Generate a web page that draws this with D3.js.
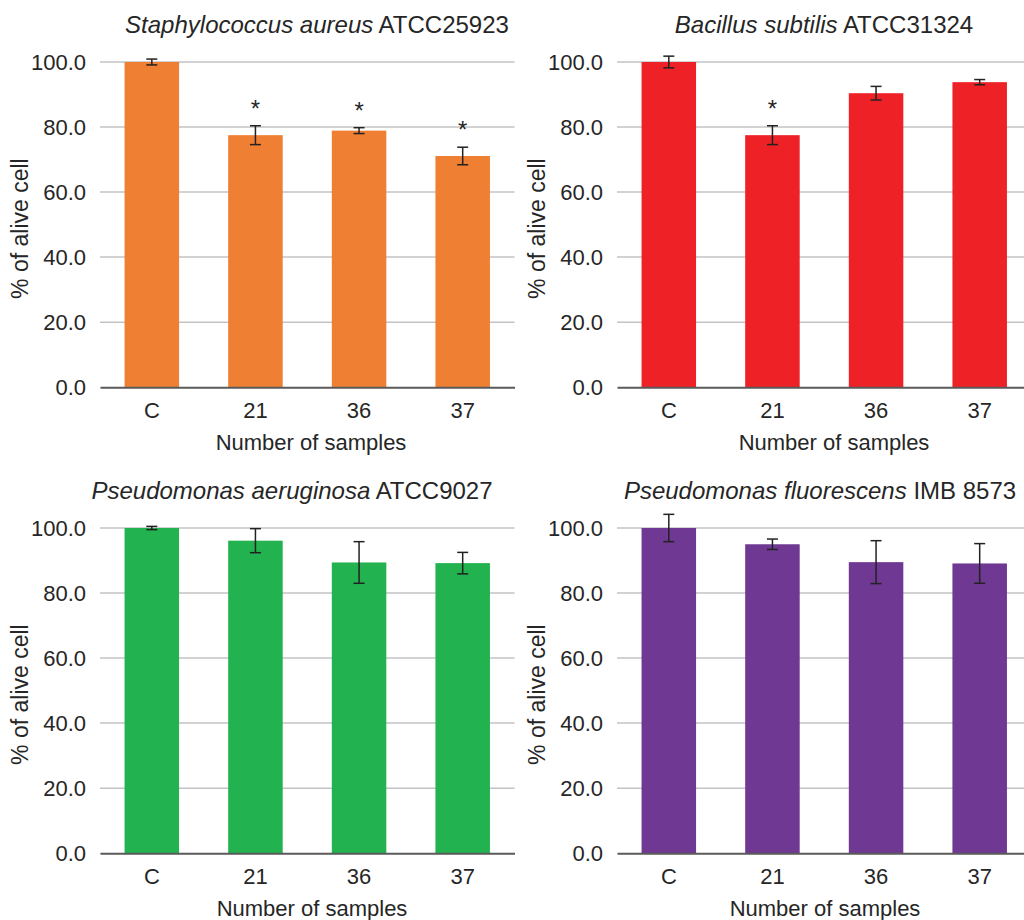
<!DOCTYPE html>
<html>
<head>
<meta charset="utf-8">
<script src="https://cdn.jsdelivr.net/npm/d3@7"></script>
<style>
  body { margin: 0; background: #fff; }
  svg { display: block; font-family: "Liberation Sans", Arial, sans-serif; }
</style>
</head>
<body>
<svg id="chart"></svg>
<script>
// data
var categories = ["C", "21", "36", "37"];
var yTicks = [0, 20, 40, 60, 80, 100];

var speciesNames = ["Staphylococcus aureus", "Bacillus subtilis", "Pseudomonas aeruginosa", "Pseudomonas fluorescens"];
var strainNames = ["ATCC25923", "ATCC31324", "ATCC9027", "IMB 8573"];

var saValues = [100.0, 77.5, 78.9, 71.1];
var saErrors = [0.9, 2.9, 0.9, 2.7];
var saStars = [false, true, true, true];

var bsValues = [100.0, 77.5, 90.4, 93.8];
var bsErrors = [1.8, 2.9, 2.1, 0.8];
var bsStars = [false, true, false, false];

var paValues = [100.0, 96.1, 89.4, 89.2];
var paErrors = [0.5, 3.7, 6.4, 3.3];
var paStars = [false, false, false, false];

var pfValues = [100.0, 95.0, 89.5, 89.1];
var pfErrors = [4.2, 1.6, 6.6, 6.1];
var pfStars = [false, false, false, false];

var colors = ["#ef7f32", "#ee2226", "#22b24f", "#6e3893"];

var screen = {width: 1024, height: 920};

// layout of the four panels
var layout = [
  {left: 100, top: 62, titleX: 317, xLabelX: 311},
  {left: 617, top: 62, titleX: 824, xLabelX: 834},
  {left: 100, top: 528, titleX: 292, xLabelX: 312},
  {left: 617, top: 528, titleX: 820, xLabelX: 825}
];
var plotW = 414.5, plotH = 325.2;

var panels = [
  {values: saValues, errors: saErrors, stars: saStars},
  {values: bsValues, errors: bsErrors, stars: bsStars},
  {values: paValues, errors: paErrors, stars: paStars},
  {values: pfValues, errors: pfErrors, stars: pfStars}
];

var svg = d3.select("#chart")
  .attr("width", screen.width)
  .attr("height", screen.height);

var xScale = d3.scaleBand()
  .domain(categories)
  .range([0, plotW])
  .paddingInner(0.474)
  .paddingOuter(0.237);

var yScale = d3.scaleLinear()
  .domain([0, 100])
  .range([plotH, 0]);

panels.forEach(function(p, i) {
  var L = layout[i];
  var g = svg.append("g")
    .attr("transform", "translate(" + L.left + "," + L.top + ")");

  // gridlines
  g.append("g").selectAll("line")
    .data(yTicks.filter(function(t) { return t > 0; }))
    .enter().append("line")
    .attr("x1", 0).attr("x2", plotW)
    .attr("y1", function(d) { return yScale(d); })
    .attr("y2", function(d) { return yScale(d); })
    .attr("stroke", "#c3c3c7")
    .attr("stroke-width", 1.5);

  // y tick labels
  var yAxis = d3.axisLeft(yScale)
    .tickValues(yTicks)
    .tickFormat(d3.format(".1f"))
    .tickSize(0)
    .tickPadding(14);
  var ya = g.append("g").call(yAxis);
  ya.select(".domain").remove();
  ya.selectAll("text")
    .attr("font-size", 22)
    .attr("fill", "#262626")
    .attr("font-family", "Liberation Sans, Arial, sans-serif");

  // bars
  g.selectAll("rect.bar")
    .data(p.values)
    .enter().append("rect")
    .attr("class", "bar")
    .attr("x", function(d, j) { return xScale(categories[j]); })
    .attr("width", xScale.bandwidth())
    .attr("y", function(d) { return yScale(d); })
    .attr("height", function(d) { return plotH - yScale(d); })
    .attr("fill", colors[i]);

  // x axis
  var xAxis = d3.axisBottom(xScale).tickSize(0).tickPadding(15);
  var xa = g.append("g")
    .attr("transform", "translate(0," + plotH + ")")
    .call(xAxis);
  xa.select(".domain")
    .attr("stroke", "#5a5a5a")
    .attr("stroke-width", 2);
  xa.selectAll("text")
    .attr("font-size", 22)
    .attr("fill", "#262626")
    .attr("font-family", "Liberation Sans, Arial, sans-serif");

  // error bars
  var eb = g.selectAll("g.err")
    .data(p.values)
    .enter().append("g")
    .attr("class", "err")
    .attr("stroke", "#222")
    .attr("stroke-width", 1.5);
  var cx = function(j) { return xScale(categories[j]) + xScale.bandwidth() / 2; };
  eb.append("line")
    .attr("x1", function(d, j) { return cx(j); })
    .attr("x2", function(d, j) { return cx(j); })
    .attr("y1", function(d, j) { return yScale(d + p.errors[j]); })
    .attr("y2", function(d, j) { return yScale(d - p.errors[j]); });
  eb.append("line")
    .attr("x1", function(d, j) { return cx(j) - 5.5; })
    .attr("x2", function(d, j) { return cx(j) + 5.5; })
    .attr("y1", function(d, j) { return yScale(d + p.errors[j]); })
    .attr("y2", function(d, j) { return yScale(d + p.errors[j]); });
  eb.append("line")
    .attr("x1", function(d, j) { return cx(j) - 5.5; })
    .attr("x2", function(d, j) { return cx(j) + 5.5; })
    .attr("y1", function(d, j) { return yScale(d - p.errors[j]); })
    .attr("y2", function(d, j) { return yScale(d - p.errors[j]); });

  // significance stars
  g.selectAll("text.star")
    .data(p.values.map(function(v, j) { return {v: v, e: p.errors[j], s: p.stars[j], j: j}; })
      .filter(function(d) { return d.s; }))
    .enter().append("text")
    .attr("class", "star")
    .attr("x", function(d) { return cx(d.j); })
    .attr("y", function(d) { return yScale(d.v + d.e) - 9; })
    .attr("text-anchor", "middle")
    .attr("font-size", 24)
    .attr("fill", "#262626")
    .text("*");

  // title
  var t = svg.append("text")
    .attr("x", L.titleX)
    .attr("y", L.top - 29)
    .attr("text-anchor", "middle")
    .attr("font-size", 24)
    .attr("fill", "#262626");
  t.append("tspan").attr("font-style", "italic").text(speciesNames[i]);
  t.append("tspan").text(" " + strainNames[i]);

  // x label
  svg.append("text")
    .attr("x", L.xLabelX)
    .attr("y", L.top + plotH + 63)
    .attr("text-anchor", "middle")
    .attr("font-size", 22)
    .attr("fill", "#262626")
    .text("Number of samples");

  // y label
  svg.append("text")
    .attr("transform", "translate(" + (L.left - 72) + "," + (L.top + plotH / 2 + 4) + ") rotate(-90)")
    .attr("text-anchor", "middle")
    .attr("font-size", 23)
    .attr("fill", "#262626")
    .text("% of alive cell");
});
</script>
</body>
</html>
